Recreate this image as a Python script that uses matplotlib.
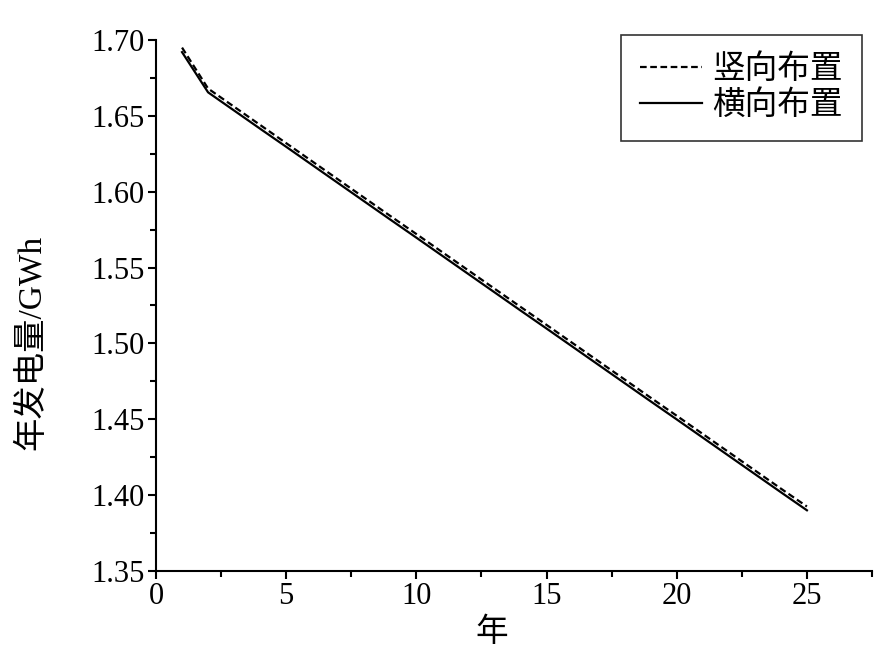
import matplotlib
matplotlib.use("Agg")
import matplotlib.pyplot as plt
from matplotlib.ticker import MultipleLocator, FormatStrFormatter

plt.rcParams['font.family'] = ['Liberation Serif', 'Noto Sans CJK SC']

years = list(range(1, 26))
# 竖向布置
vertical = [1.6950, 1.6680, 1.6560, 1.6440, 1.6320, 1.6200, 1.6080, 1.5960,
            1.5840, 1.5721, 1.5601, 1.5481, 1.5361, 1.5241, 1.5122, 1.5002,
            1.4882, 1.4762, 1.4642, 1.4523, 1.4403, 1.4283, 1.4163, 1.4043,
            1.3925]
# 横向布置
horizontal = [1.6920, 1.6655, 1.6535, 1.6415, 1.6296, 1.6176, 1.6056, 1.5936,
              1.5816, 1.5697, 1.5577, 1.5457, 1.5337, 1.5217, 1.5098, 1.4978,
              1.4858, 1.4738, 1.4618, 1.4499, 1.4379, 1.4259, 1.4139, 1.4019,
              1.3900]
labels = ['竖向布置', '横向布置']

fig = plt.figure(figsize=(8.93, 6.70), dpi=100)
ax = fig.add_axes([0.1747, 0.1478, 0.8018, 0.7925])

ax.plot(years, vertical, color='black', lw=1.6, linestyle=(0, (3, 1.6)), label=labels[0])
ax.plot(years, horizontal, color='black', lw=1.6, linestyle='-', label=labels[1])

ax.set_xlim(0, 27.5)
ax.set_ylim(1.35, 1.70)
ax.xaxis.set_major_locator(MultipleLocator(5))
ax.xaxis.set_minor_locator(MultipleLocator(2.5))
ax.yaxis.set_major_locator(MultipleLocator(0.05))
ax.yaxis.set_minor_locator(MultipleLocator(0.025))
ax.yaxis.set_major_formatter(FormatStrFormatter('%.2f'))

for s in ['top', 'right']:
    ax.spines[s].set_visible(False)
for s in ['left', 'bottom']:
    ax.spines[s].set_linewidth(1.5)

ax.tick_params(which='major', direction='out', length=6, width=1.5, labelsize=22, pad=2)
ax.tick_params(which='minor', direction='out', length=4.5, width=1.5)

ax.set_xlabel('年', fontsize=23.5)
ax.xaxis.set_label_coords(0.469, -0.088)
ax.set_ylabel('年发电量/GWh', fontsize=24)
ax.yaxis.set_label_coords(-0.152, 0.43)

leg = ax.legend(loc='upper right', bbox_to_anchor=(0.9653, 0.9478),
                bbox_transform=fig.transFigure, fontsize=23.5,
                frameon=True, fancybox=False, handlelength=1.9, handletextpad=0.3,
                borderpad=0.6, borderaxespad=0, labelspacing=0.15)
leg.get_frame().set_edgecolor('black')
leg.get_frame().set_linewidth(1.2)

fig.savefig('out.png', dpi=100)
